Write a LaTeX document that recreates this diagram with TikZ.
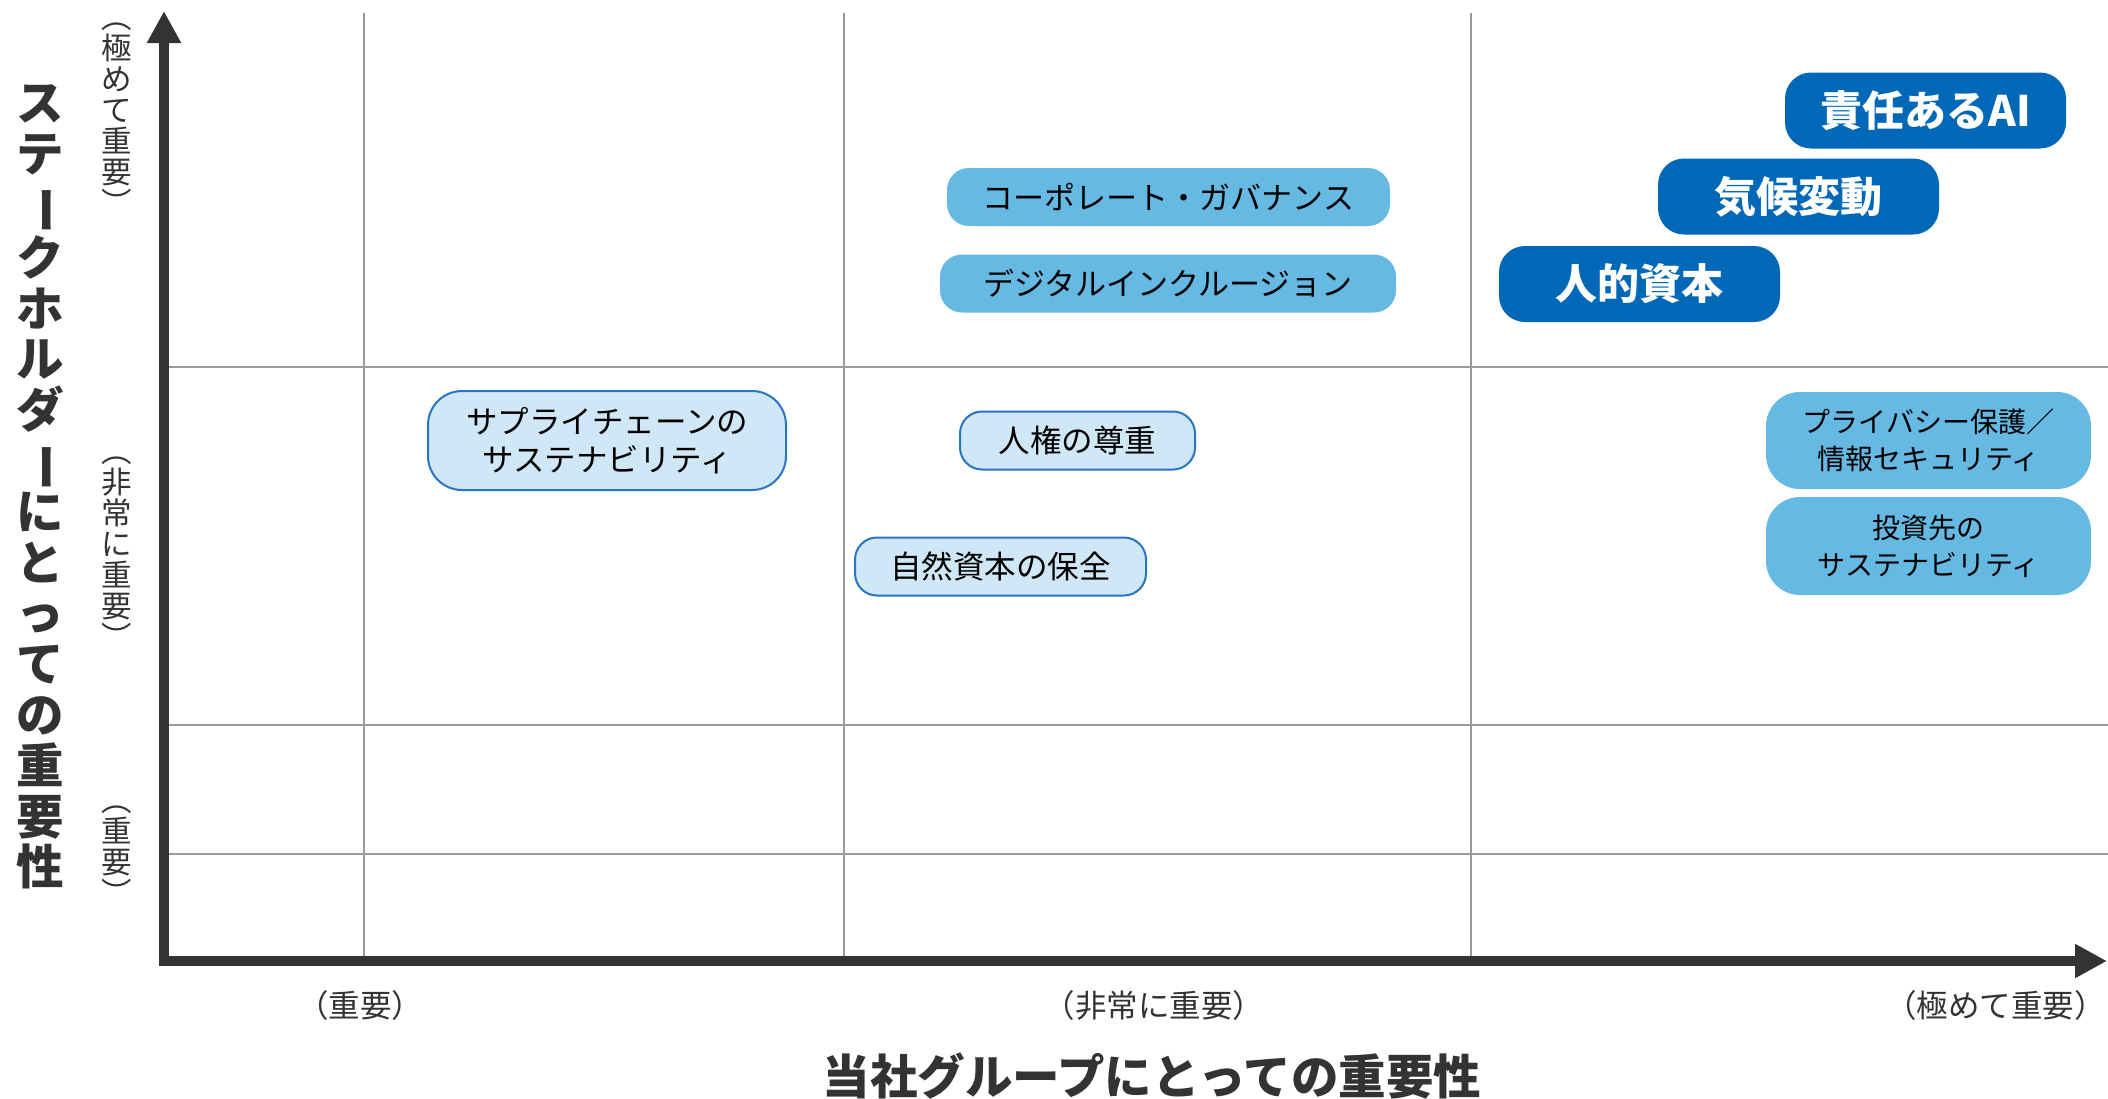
\documentclass[tikz,border=0pt]{standalone}
\usepackage{fontspec}
\usepackage{graphicx}
\setmainfont{Noto Sans CJK JP}
\usetikzlibrary{arrows.meta}
\definecolor{axisgray}{HTML}{333333}
\definecolor{gridgray}{HTML}{9A9A9A}
\definecolor{darkblue}{HTML}{0068B7}
\definecolor{lightblue}{HTML}{66B9E2}
\definecolor{paleblue}{HTML}{CFE7F6}
\definecolor{borderblue}{HTML}{2A74C2}
\newcommand{\vbar}{\rotatebox[origin=c]{-90}{ー}}
\begin{document}
\begin{tikzpicture}[x=1pt,y=-1pt,
  gridline/.style={draw=gridgray,line width=1.5pt},
  axisline/.style={draw=axisgray,line width=10pt,line join=miter,
    {Triangle[length=32pt,width=32pt]}-{Triangle[length=32pt,width=32pt]}},
  darkbox/.style={fill=darkblue,text=white,font=\fontsize{42}{48}\selectfont\bfseries,
    rounded corners=26pt,minimum width=281pt,minimum height=76pt,inner sep=0pt},
  lightbox/.style={fill=lightblue,text=black,font=\fontsize{31}{38}\selectfont,
    rounded corners=22pt,minimum height=58pt,inner sep=0pt,align=center},
  lightbox2/.style={fill=lightblue,text=black,font=\fontsize{28}{37}\selectfont,
    rounded corners=34pt,minimum width=325pt,minimum height=97pt,inner sep=0pt,align=center},
  palebox/.style={fill=paleblue,draw=borderblue,line width=2pt,text=black,
    font=\fontsize{31.5}{38}\selectfont,rounded corners=22pt,minimum height=58pt,
    inner sep=0pt,align=center},
  axislabel/.style={text=axisgray,font=\fontsize{31.5}{34}\selectfont,inner sep=0pt},
  vlabel/.style={text=axisgray,font=\fontsize{30.5}{31}\selectfont,inner sep=0pt,align=center},
  axistitle/.style={text=axisgray,font=\fontsize{47.5}{50.8}\selectfont\bfseries,inner sep=0pt,align=center}
]
\useasboundingbox (0,0) rectangle (2108,1098);
\fill[white] (0,0) rectangle (2108,1098);

% grid
\coordinate (g1t) at (364,13);   \coordinate (g1b) at (364,961);
\coordinate (g2t) at (844,13);   \coordinate (g2b) at (844,961);
\coordinate (g3t) at (1471,13);  \coordinate (g3b) at (1471,961);
\coordinate (h1l) at (164,367);  \coordinate (h1r) at (2108,367);
\coordinate (h2l) at (164,725);  \coordinate (h2r) at (2108,725);
\coordinate (h3l) at (164,854);  \coordinate (h3r) at (2108,854);
\draw[gridline] (g1t) -- (g1b);
\draw[gridline] (g2t) -- (g2b);
\draw[gridline] (g3t) -- (g3b);
\draw[gridline] (h1l) -- (h1r);
\draw[gridline] (h2l) -- (h2r);
\draw[gridline] (h3l) -- (h3r);

% axes
\coordinate (ytop) at (164,11);
\coordinate (origin) at (164,961);
\coordinate (xend) at (2107,961);
\draw[axisline] (ytop) -- (origin) -- (xend);

% x labels
\node[axislabel] (xl1) at (360,1006) {（重要）};
\node[axislabel] (xl2) at (1154,1006) {（非常に重要）};
\node[axislabel,anchor=east] (xl3) at (2106,1006) {（極めて重要）};
\node[axistitle] (xtitle) at (1152,1076) {当社グループにとっての重要性};

% y labels
\node[vlabel] (yl3) at (117,119) {︵\\極\\め\\て\\重\\要\\︶};
\node[vlabel] (yl2) at (117,553) {︵\\非\\常\\に\\重\\要\\︶};
\node[vlabel] (yl1) at (117,855) {︵\\重\\要\\︶};
\node[axistitle] (ytitle) at (40,487) {ス\\テ\\\vbar\\ク\\ホ\\ル\\ダ\\\vbar\\に\\と\\っ\\て\\の\\重\\要\\性};

% boxes
\node[darkbox] (ai) at (1925.5,110.5) {責任あるAI};
\node[darkbox] (climate) at (1798.5,196.5) {気候変動};
\node[darkbox] (human) at (1639.5,284) {人的資本};
\node[lightbox,minimum width=443pt] (gov) at (1168.5,197) {コーポレート・ガバナンス};
\node[lightbox,minimum width=456pt] (digital) at (1168,283.5) {デジタルインクルージョン};
\node[palebox,minimum width=358pt,minimum height=99pt,rounded corners=34pt] (supply) at (607,440.5) {サプライチェーンの\\サステナビリティ};
\node[palebox,minimum width=235pt] (rights) at (1077.5,440.5) {人権の尊重};
\node[palebox,minimum width=291pt] (nature) at (1000.5,566.5) {自然資本の保全};
\node[lightbox2] (privacy) at (1928.5,440.5) {プライバシー保護／\\情報セキュリティ};
\node[lightbox2,minimum height=98pt] (invest) at (1928.5,546) {投資先の\\サステナビリティ};
\end{tikzpicture}
\end{document}
